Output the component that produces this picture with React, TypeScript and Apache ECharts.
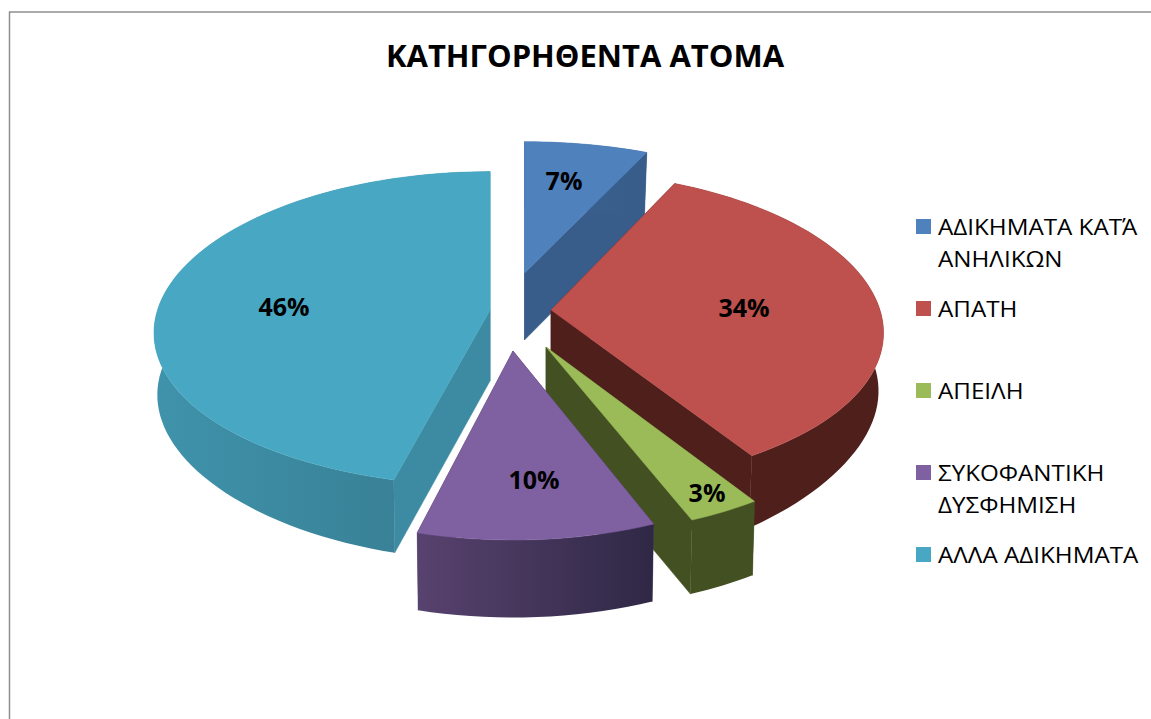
import React, { useEffect, useRef } from "react";
import * as echarts from "echarts";

const title = "ΚΑΤΗΓΟΡΗΘΕΝΤΑ ΑΤΟΜΑ";
const categories = ["ΑΔΙΚΗΜΑΤΑ ΚΑΤΆ\nΑΝΗΛΙΚΩΝ", "ΑΠΑΤΗ", "ΑΠΕΙΛΗ", "ΣΥΚΟΦΑΝΤΙΚΗ\nΔΥΣΦΗΜΙΣΗ", "ΑΛΛΑ ΑΔΙΚΗΜΑΤΑ"];
const values = [7, 34, 3, 10, 46];

// layout and styling of the drawn pie
const topColors = ["#4F81BD", "#BE504D", "#9BBB59", "#7F60A0", "#48A8C3"];
const wallLeft = ["#3A6190", "#4F1F1C", "#435022", "#58426F", "#3F93AB"];
const wallRight = ["#385D8A", "#4F1F1C", "#435022", "#2F2845", "#367A8E"];
const edgeColors = ["#385D8A", "#4F1F1C", "#435022", "#4A3A66", "#3D8BA3"];
const apexes = [[524.5, 273], [551, 310], [546, 347], [513, 351], [490, 310]];
const radii = [334, 329, 330, 318, 332.5];
const perspectivesX = [0.18, 0.145, 0.18, 0.18, 0.145];
const perspectivesY = [0.18, 0.12, 0.18, 0.18, 0.12];
const apexDepths = [67, 72, 74, 77.5, 71];
const sideDepths = [67, 58, 74, 77.5, 62];
const frontDepths = [67, 82, 74, 77.5, 74];
const bottomScales = [0.98, 0.985, 0.99, 0.99, 0.99];
const labelCenters = [[564, 180], [744, 307], [707, 492], [534, 479], [284, 306]];
const paintOrder = [1, 2, 4, 5, 3];
const legendY = [219, 301, 383, 465, 547];

const PLANE = 155;
const FONT = "'Open Sans', 'Noto Sans', sans-serif";

function project(angleDeg: number, i: number) {
  const t = (angleDeg * Math.PI) / 180;
  const u = Math.sin(t);
  const v = -Math.cos(t);
  return {
    x: (radii[i] * u) / (1 - perspectivesX[i] * v),
    y: (PLANE * v) / (1 - perspectivesY[i] * v),
    depth: sideDepths[i] + (frontDepths[i] - sideDepths[i]) * Math.pow(Math.max(v, 0), 3),
  };
}

function renderSlice(params: any, api: any) {
  const i = params.dataIndex;
  const total = values.reduce((a, b) => a + b, 0);
  let before = 0;
  for (let k = 0; k < i; k++) before += values[k];
  const a0 = (before / total) * 360;
  const a1 = ((before + api.value(0)) / total) * 360;
  const [ax, ay] = apexes[i];
  const steps = Math.max(8, Math.round((a1 - a0) / 2));
  const top: number[][] = [];
  const bottom: number[][] = [];
  for (let s = 0; s <= steps; s++) {
    const p = project(a0 + ((a1 - a0) * s) / steps, i);
    top.push([ax + p.x, ay + p.y]);
    bottom.push([ax + p.x * bottomScales[i], ay + p.y + p.depth]);
  }
  const z = paintOrder[i] * 10;
  const apexLow = [ax, ay + apexDepths[i]];
  const grad = {
    type: "linear", x: 0, y: 0, x2: 1, y2: 0,
    colorStops: [{ offset: 0, color: wallLeft[i] }, { offset: 1, color: wallRight[i] }],
  };
  const poly = (points: number[][], fill: any, zz: number) => ({
    type: "polygon", z2: zz, shape: { points }, style: { fill, stroke: fill.type ? undefined : fill, lineWidth: 0.5 },
  });
  return {
    type: "group",
    children: [
      poly([[ax, ay], top[0], bottom[0], apexLow], edgeColors[i], z),
      poly([[ax, ay], top[steps], bottom[steps], apexLow], edgeColors[i], z),
      poly([...top, ...bottom.slice().reverse()], grad, z + 1),
      poly([[ax, ay], ...top], topColors[i], z + 2),
      {
        type: "text", z2: 100, x: labelCenters[i][0], y: labelCenters[i][1],
        style: {
          text: `${api.value(0)}%`, fontFamily: FONT, fontWeight: "bold", fontSize: 25,
          fill: "#000", align: "center", verticalAlign: "middle",
        },
      },
    ],
  };
}

export default function App() {
  const ref = useRef<HTMLDivElement>(null);
  useEffect(() => {
    const chart = echarts.init(ref.current!, undefined, { renderer: "svg" });
    const legendGraphics: any[] = [];
    categories.forEach((c, i) => {
      legendGraphics.push({
        type: "rect", left: 916, top: legendY[i], shape: { width: 15, height: 15 },
        style: { fill: topColors[i] },
      });
      legendGraphics.push({
        type: "text", x: 938, y: legendY[i] - 9, scaleX: 1.08,
        style: { text: c, fontFamily: FONT, fontSize: 22.4, lineHeight: 32, fill: "#000", align: "left", verticalAlign: "top" },
      });
    });
    chart.setOption({
      animation: false,
      title: {
        text: title, left: 580, top: 34, textAlign: "center",
        textStyle: { fontFamily: FONT, fontWeight: "bold", fontSize: 31, color: "#000" },
      },
      graphic: [
        {
          type: "rect", x: 9.5, y: 12, z: -1, shape: { width: 1200, height: 800 },
          style: { fill: "#fff", stroke: "#8E8E8E", lineWidth: 1.5 },
        },
        ...legendGraphics,
      ],
      series: [{
        type: "custom", coordinateSystem: "none", renderItem: renderSlice,
        data: categories.map((name, i) => ({ name, value: [values[i]] })),
      }],
    });
    return () => chart.dispose();
  }, []);
  return <div ref={ref} style={{ position: "absolute", left: 0, top: 0, width: 1151, height: 719, background: "#fff" }} />;
}
